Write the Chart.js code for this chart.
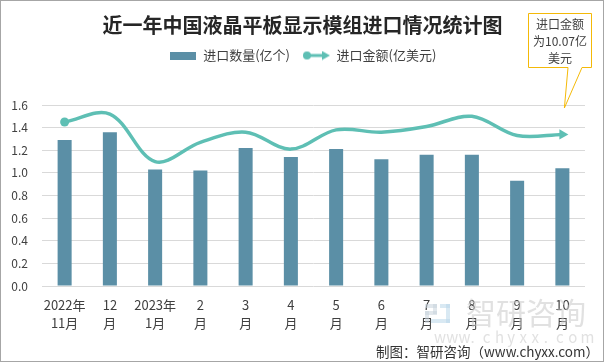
<!DOCTYPE html>
<html>
<head>
<meta charset="utf-8">
<script src="https://cdn.jsdelivr.net/npm/chart.js@4.4.0/dist/chart.umd.min.js"></script>
<style>
  html, body { margin: 0; padding: 0; background: #fff; }
  #wrap { width: 605px; height: 363px; }
</style>
</head>
<body>
<div id="wrap"><canvas id="chart" width="605" height="363"></canvas></div>
<script>
// chart data
const categories = [
    ['2022年', '11月'], ['12', '月'], ['2023年', '1月'], ['2', '月'], ['3', '月'], ['4', '月'],
    ['5', '月'], ['6', '月'], ['7', '月'], ['8', '月'], ['9', '月'], ['10', '月']
];
const importVolume = [1.29, 1.36, 1.03, 1.02, 1.22, 1.14, 1.21, 1.12, 1.16, 1.16, 0.93, 1.04]; // 亿个
const importValue = [1.45, 1.52, 1.10, 1.27, 1.36, 1.21, 1.38, 1.36, 1.41, 1.50, 1.33, 1.34];  // 亿美元
const yMin = 0;
const yMax = 1.6;
const yStep = 0.2;
const calloutLines = ['进口金额', '为10.07亿', '美元'];

const barColor = '#5B8FA6';
const lineColor = '#5EBFB4';
const textColor = '#404040';
const cjkFont = '"Noto Sans CJK SC", "Noto Sans", sans-serif';

// legend swatches
function makeBarSwatch() {
    const c = document.createElement('canvas');
    c.width = 26; c.height = 8;
    const g = c.getContext('2d');
    g.fillStyle = barColor;
    g.fillRect(0, 0, 26, 8);
    return c;
}
function makeLineSwatch() {
    const c = document.createElement('canvas');
    c.width = 28; c.height = 10;
    const g = c.getContext('2d');
    g.fillStyle = lineColor;
    g.strokeStyle = lineColor;
    g.lineWidth = 3;
    g.beginPath(); g.arc(5, 5, 4, 0, Math.PI * 2); g.fill();
    g.beginPath(); g.moveTo(5, 5); g.lineTo(21, 5); g.stroke();
    g.beginPath(); g.moveTo(20, 0.5); g.lineTo(28, 5); g.lineTo(20, 9.5); g.closePath(); g.fill();
    return c;
}

const lastIdx = importValue.length - 1;
const pointRadius = importValue.map((v, i) => i === 0 ? 4.5 : (i === lastIdx ? 6 : 0));
const pointStyle = importValue.map((v, i) => i === lastIdx ? 'triangle' : 'circle');
const pointRotation = importValue.map((v, i) => i === lastIdx ? 90 : 0);

// extra space under the legend
const legendGap = {
    id: 'legendGap',
    beforeInit(chart) {
        const fit = chart.legend.fit;
        chart.legend.fit = function () {
            fit.bind(chart.legend)();
            this.height += 33;
        };
    }
};

// callout, watermark, footer and frame
const decorations = {
    id: 'decorations',
    afterDraw(chart) {
        const ctx = chart.ctx;
        const x = chart.scales.x;
        const y = chart.scales.y;
        ctx.save();

        // watermark
        ctx.globalAlpha = 0.55;
        ctx.fillStyle = '#c9d3dc';
        ctx.fillRect(425, 304, 12, 4);
        ctx.fillRect(433, 304, 4, 10);
        ctx.fillRect(425, 311, 12, 4);
        ctx.fillRect(425, 311, 4, 12);
        ctx.fillStyle = '#b9d7ea';
        ctx.fillRect(440, 304, 10, 4);
        ctx.fillRect(446, 304, 4, 19);
        ctx.fillRect(431, 319, 19, 4);
        ctx.fillStyle = '#c8c8c8';
        ctx.font = '30px ' + cjkFont;
        ctx.textAlign = 'left';
        ctx.textBaseline = 'middle';
        ctx.fillText('智研咨询', 466, 313);
        ctx.font = '15px ' + cjkFont;
        const url = 'www.chyxx.com';
        for (let i = 0; i < url.length; i++) {
            ctx.fillText(url[i], 434 + i * 12.2, 337);
        }
        ctx.globalAlpha = 1;

        // footer
        ctx.fillStyle = '#333';
        ctx.font = '13.5px ' + cjkFont;
        ctx.textAlign = 'right';
        ctx.fillText('制图：智研咨询（www.chyxx.com）', 599, 352);

        // callout
        const tipX = x.getPixelForValue(lastIdx) + 2;
        const tipY = y.getPixelForValue(yMax) + 3;
        ctx.beginPath();
        ctx.moveTo(528.5, 13.5);
        ctx.lineTo(591.5, 13.5);
        ctx.lineTo(591.5, 67.5);
        ctx.lineTo(582, 67.5);
        ctx.lineTo(tipX, tipY);
        ctx.lineTo(568, 67.5);
        ctx.lineTo(528.5, 67.5);
        ctx.closePath();
        ctx.fillStyle = '#fff';
        ctx.fill();
        ctx.strokeStyle = '#F4B908';
        ctx.lineWidth = 1;
        ctx.stroke();
        ctx.fillStyle = textColor;
        ctx.font = '12px ' + cjkFont;
        ctx.textAlign = 'center';
        calloutLines.forEach((t, i) => ctx.fillText(t, 560, 24 + i * 17));

        // frame
        ctx.strokeStyle = '#a6a6a6';
        ctx.strokeRect(0.5, 0.5, 603, 361);
        ctx.restore();
    }
};

new Chart(document.getElementById('chart'), {
    data: {
        labels: categories,
        datasets: [
            {
                type: 'bar',
                label: '进口数量(亿个)',
                data: importVolume,
                backgroundColor: barColor,
                barPercentage: 0.62,
                categoryPercentage: 0.5,
                order: 1
            },
            {
                type: 'line',
                label: '进口金额(亿美元)',
                data: importValue,
                borderColor: lineColor,
                backgroundColor: lineColor,
                borderWidth: 3.5,
                tension: 0.35,
                pointRadius: pointRadius,
                pointStyle: pointStyle,
                pointRotation: pointRotation,
                pointBorderWidth: 0,
                pointBackgroundColor: lineColor,
                order: 0
            }
        ]
    },
    options: {
        responsive: false,
        animation: false,
        devicePixelRatio: 1,
        layout: { padding: { left: 0, right: 0, top: 0, bottom: 0 } },
        plugins: {
            title: {
                display: true,
                text: '近一年中国液晶平板显示模组进口情况统计图',
                color: '#262626',
                font: { family: cjkFont, size: 20, weight: 'bold' },
                padding: { top: 13, bottom: 0 }
            },
            legend: {
                display: true,
                labels: {
                    usePointStyle: true,
                    pointStyleWidth: 28,
                    padding: 12,
                    color: textColor,
                    font: { family: cjkFont, size: 13 },
                    generateLabels: () => [
                        { text: '进口数量(亿个)', pointStyle: makeBarSwatch(), fillStyle: barColor, strokeStyle: barColor, lineWidth: 0, hidden: false, datasetIndex: 0, fontColor: textColor },
                        { text: '进口金额(亿美元)', pointStyle: makeLineSwatch(), fillStyle: lineColor, strokeStyle: lineColor, lineWidth: 0, hidden: false, datasetIndex: 1, fontColor: textColor }
                    ]
                }
            },
            tooltip: { enabled: false }
        },
        scales: {
            x: {
                grid: { display: false, drawTicks: false },
                border: { display: false },
                ticks: {
                    color: textColor,
                    font: { family: cjkFont, size: 13, lineHeight: 1.38 },
                    padding: 10,
                    maxRotation: 0,
                    autoSkip: false
                },
                afterFit(scale) { scale.height = 77; }
            },
            y: {
                min: yMin,
                max: yMax,
                grid: { color: '#d9d9d9', drawTicks: false },
                border: { display: false },
                ticks: {
                    stepSize: yStep,
                    color: textColor,
                    font: { family: cjkFont, size: 12 },
                    padding: 14,
                    callback: v => v.toFixed(1)
                },
                afterFit(scale) { scale.width = 42; }
            },
            yRight: {
                position: 'right',
                display: true,
                grid: { display: false, drawTicks: false },
                border: { display: false },
                ticks: { display: false },
                afterFit(scale) { scale.width = 20; }
            }
        }
    },
    plugins: [legendGap, decorations]
});
</script>
</body>
</html>
